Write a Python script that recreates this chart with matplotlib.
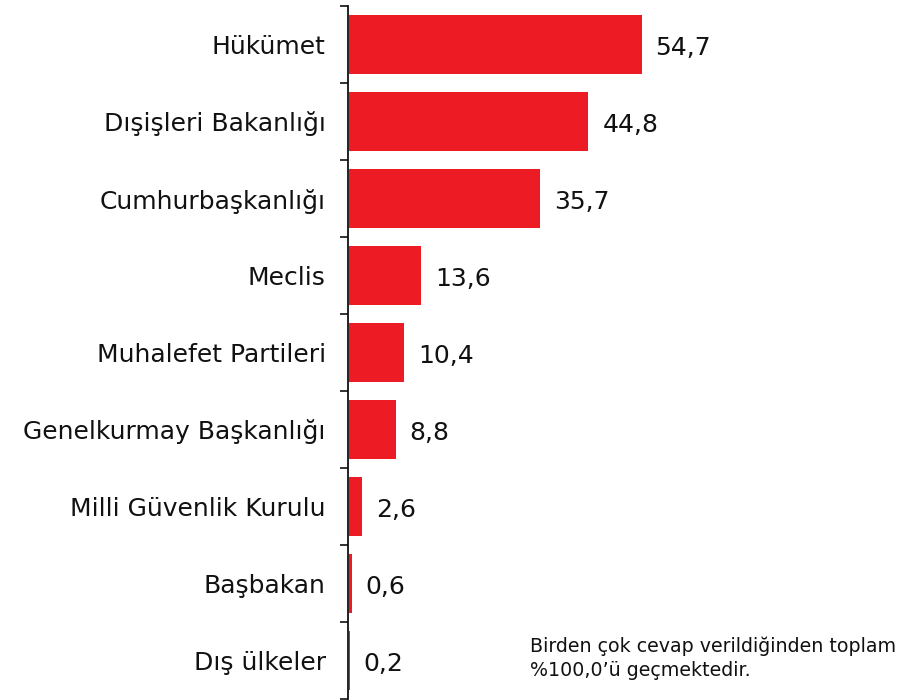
import matplotlib
matplotlib.use("Agg")
import matplotlib.pyplot as plt

categories = ["Hükümet", "Dışişleri Bakanlığı", "Cumhurbaşkanlığı", "Meclis",
              "Muhalefet Partileri", "Genelkurmay Başkanlığı", "Milli Güvenlik Kurulu",
              "Başbakan", "Dış ülkeler"]
values = [54.7, 44.8, 35.7, 13.6, 10.4, 8.8, 2.6, 0.6, 0.2]
value_labels = ["54,7", "44,8", "35,7", "13,6", "10,4", "8,8", "2,6", "0,6", "0,2"]
note = "Birden çok cevap verildiğinden toplam\n%100,0’ü geçmektedir."

plt.rcParams['font.family'] = ['DejaVu Sans']
W, H = 906, 700
fig = plt.figure(figsize=(W / 100, H / 100), dpi=100)
ax = fig.add_axes([348 / W, 1 / H, (W - 348) / W, 693 / H])

n = len(categories)
ypos = list(range(n))
ax.barh(ypos, values, height=0.77, color="#ED1C24", zorder=3)
px_per_unit = 5.356
ax.set_xlim(-0.1, (W - 348) / px_per_unit - 0.1)
ax.set_ylim(n - 0.5, -0.5)

for y, v, lab in zip(ypos, values, value_labels):
    ax.annotate(lab, (v, y), xytext=(10, -2.2), textcoords="offset points",
                va="center", ha="left", fontsize=18, color="#111111")

ax.set_yticks([i - 0.5 for i in range(n + 1)])
ax.set_yticklabels([])
ax.set_yticks(ypos, minor=True)
ax.set_yticklabels(categories, minor=True, fontsize=18, color="#111111")
ax.tick_params(axis="y", which="major", length=6, width=1.2, color="#111111", direction="out")
ax.tick_params(axis="y", which="minor", length=0, pad=16)
ax.set_xticks([])
for s in ["top", "right", "bottom"]:
    ax.spines[s].set_visible(False)
ax.spines["left"].set_linewidth(1.3)
ax.spines["left"].set_color("#111111")
ax.spines["left"].set_zorder(2)

fig.text(530 / W, 1 - 637 / H, note, fontsize=13.7, va="top", ha="left",
         color="#111111", linespacing=1.3)

fig.savefig("out.png", dpi=100)
